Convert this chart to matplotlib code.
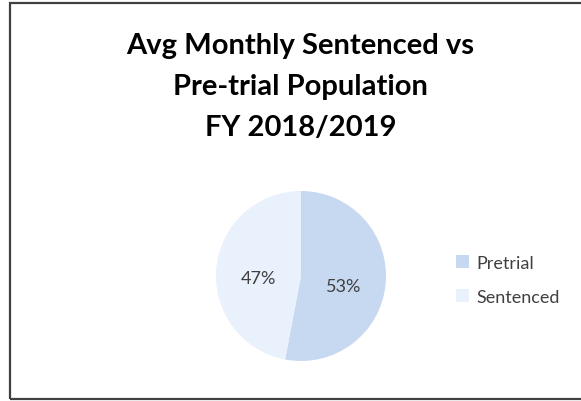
import matplotlib
matplotlib.use('Agg')
import matplotlib.pyplot as plt
from matplotlib.patches import Rectangle, Patch

# data
labels = ['Pretrial', 'Sentenced']
values = [53, 47]
colors = ['#c6d9f1', '#e8f1fc']
title = 'Avg Monthly Sentenced vs\nPre-trial Population\nFY 2018/2019'

plt.rcParams['font.family'] = ['Lato', 'DejaVu Sans']

fig = plt.figure(figsize=(5.81, 4.02), dpi=100)
fig.patch.set_facecolor('white')

# chart border
fig.add_artist(Rectangle((9.5 / 581, 2 / 402), 1.2, 396 / 402, transform=fig.transFigure,
                         fill=False, edgecolor='#404040', linewidth=1.6))

fig.text(0.517, 1 - 87 / 402, title, ha='center', va='center', fontsize=21,
         fontweight='bold', color='black', linespacing=1.72)

ax = fig.add_axes([216 / 581, 40 / 402, 170 / 581, 170 / 402])
wedges, texts, autotexts = ax.pie(values, colors=colors, startangle=90, counterclock=False,
                                  autopct='%1.0f%%', pctdistance=0.5, radius=1,
                                  textprops={'fontsize': 13, 'color': '#404040'})
for t in autotexts:
    x, y = t.get_position()
    t.set_position((x, y - 0.07))
ax.set_xlim(-1, 1)
ax.set_ylim(-1, 1)
ax.set_aspect('equal')

handles = [Patch(facecolor=c, edgecolor='none') for c in colors]
fig.legend(handles, labels, loc='center left', bbox_to_anchor=(440 / 581, 1 - 281 / 402),
           frameon=False, fontsize=13, labelcolor='#404040', handlelength=0.7,
           handleheight=0.7, handletextpad=0.4, labelspacing=1.0)

plt.savefig('out.png', dpi=100)
